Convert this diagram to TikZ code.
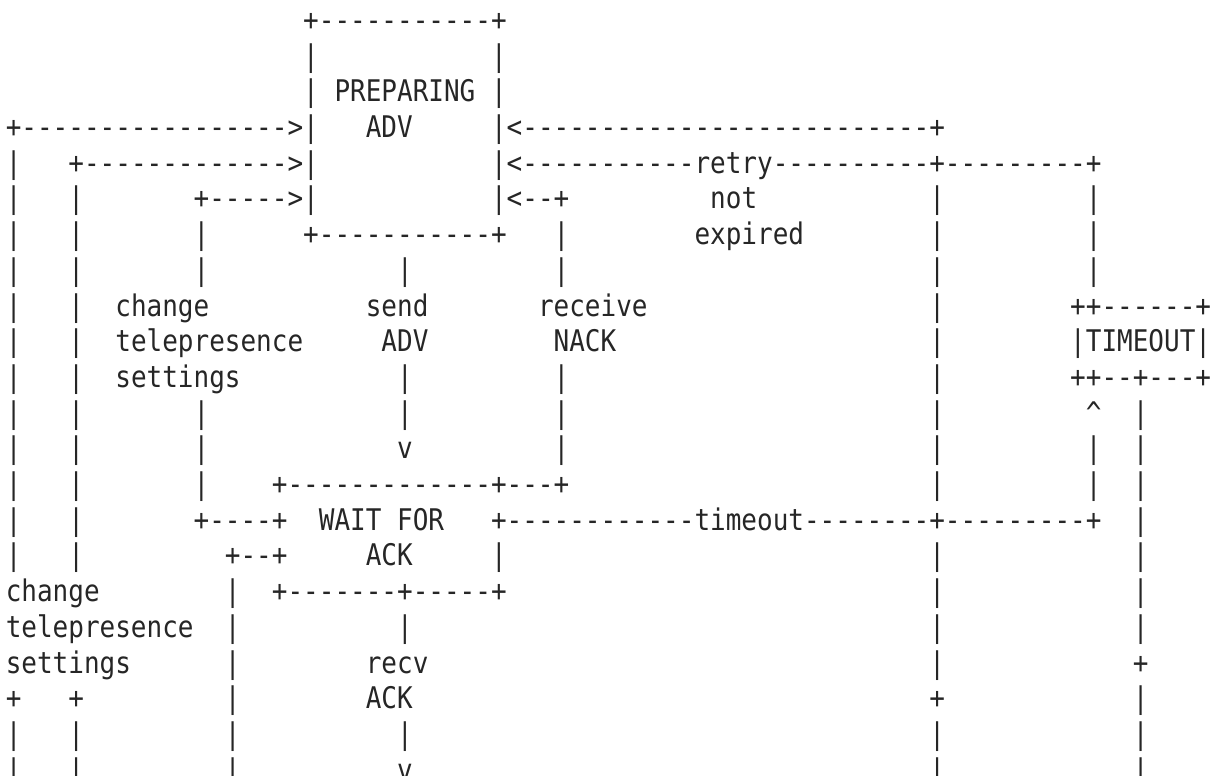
\documentclass[tikz,border=0pt]{standalone}
\usepackage{fontspec}
\setmonofont{DejaVu Sans Mono}[FakeStretch=0.8725]

\begin{document}
\begin{tikzpicture}[x=7.8268pt,y=-17.85pt,
  ascii/.style={font=\ttfamily\fontsize{14.9pt}{14.9pt}\selectfont,
    text=black!85,inner sep=0pt,anchor=base west}]
  \useasboundingbox (0pt,0pt) rectangle (606pt,-388pt);
  \begin{scope}[shift={(2.69pt,2.65pt)}]
    % PREPARING ADV
    \node[ascii] (prepTop)  at (19,1) {+-----------+};
    \node[ascii] (prepName) at (19,3) {| PREPARING |};
    \node[ascii] (prepAdv)  at (23,4) {ADV};
    \node[ascii] (prepBot)  at (19,7) {+-----------+};
    % arrows into PREPARING ADV
    \node[ascii] (inOuter) at (0,4)  {+----------------->|};
    \node[ascii] (inMid)   at (4,5)  {+------------->|};
    \node[ascii] (inInner) at (12,6) {+----->|};
    \node[ascii] (backTop)   at (31,4) {|<--------------------------+};
    \node[ascii] (backRetry) at (31,5) {|<-----------retry----------+---------+};
    \node[ascii] (backNack)  at (31,6) {|<--+};
    \node[ascii] (notLbl) at (45,6) {not};
    \node[ascii] (expLbl) at (44,7) {expired};
    % labels on the way down
    \node[ascii] (chgA) at (7,9)  {change};
    \node[ascii] (chgB) at (7,10) {telepresence};
    \node[ascii] (chgC) at (7,11) {settings};
    \node[ascii] (sendA) at (23,9)  {send};
    \node[ascii] (sendB) at (24,10) {ADV};
    \node[ascii] (sendV) at (25,13) {v};
    \node[ascii] (nackA) at (34,9)  {receive};
    \node[ascii] (nackB) at (35,10) {NACK};
    % TIMEOUT
    \node[ascii] (toTop)  at (68,9)  {++------+};
    \node[ascii] (toName) at (68,10) {|TIMEOUT|};
    \node[ascii] (toBot)  at (68,11) {++--+---+};
    \node[ascii] (toUp)   at (69,12) {\textasciicircum};
    % WAIT FOR ACK
    \node[ascii] (waitTop)  at (17,14) {+-------------+---+};
    \node[ascii] (waitIn)   at (12,15) {+----+};
    \node[ascii] (waitName) at (20,15) {WAIT FOR};
    \node[ascii] (waitOut)  at (31,15) {+------------timeout--------+---------+};
    \node[ascii] (waitIn2)  at (14,16) {+--+};
    \node[ascii] (waitAck)  at (23,16) {ACK};
    \node[ascii] (waitBot)  at (17,17) {+-------+-----+};
    \node[ascii] (chgD) at (0,17) {change};
    \node[ascii] (chgE) at (0,18) {telepresence};
    \node[ascii] (chgF) at (0,19) {settings};
    \node[ascii] (recvA) at (23,19) {recv};
    \node[ascii] (recvB) at (23,20) {ACK};
    \node[ascii] (recvV) at (25,22) {v};
    % joints
    \foreach \c/\r in {0/20,4/20,59/20,72/19}
      \node[ascii] (plus\c-\r) at (\c,\r) {+};
    % vertical runs
    \foreach \c/\rows in {0/{5,6,7,8,9,10,11,12,13,14,15,16,21,22},
        4/{6,7,8,9,10,11,12,13,14,15,16,21,22},
        12/{7,8,12,13,14}, 14/{17,18,19,20,21,22}, 19/{2},
        25/{8,11,12,18,21}, 31/{2,16}, 35/{7,8,11,12,13},
        59/{6,7,8,9,10,11,12,13,14,16,17,18,19,21,22},
        69/{6,7,8,13,14}, 72/{12,13,14,15,16,17,18,20,21,22}}
      \foreach \r in \rows
        \node[ascii] (bar\c-\r) at (\c,\r) {|};
  \end{scope}
\end{tikzpicture}
\end{document}
